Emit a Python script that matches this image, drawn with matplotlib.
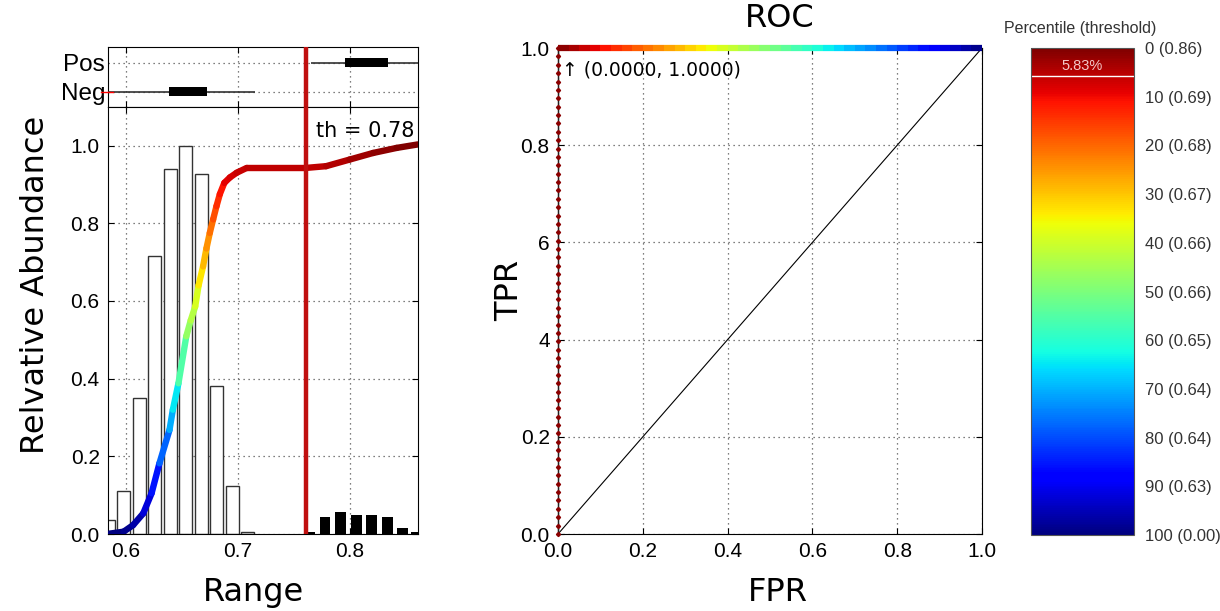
import numpy as np
import matplotlib
matplotlib.use("Agg")
import matplotlib.pyplot as plt
from matplotlib.collections import LineCollection
from matplotlib.cm import ScalarMappable
from matplotlib.colors import Normalize
import matplotlib.transforms as mtransforms

# ---- data ----
neg_centers = [0.5842, 0.598, 0.6118, 0.6257, 0.6395, 0.6534, 0.6672, 0.681, 0.6949, 0.7087]
neg_heights = [0.035, 0.111, 0.35, 0.715, 0.94, 1.0, 0.928, 0.38, 0.124, 0.005]
pos_centers = [0.764, 0.778, 0.792, 0.806, 0.8196, 0.8339, 0.8471, 0.8600]
pos_heights = [0.006, 0.044, 0.056, 0.05, 0.05, 0.044, 0.015, 0.004]

curve_x = [0.583, 0.598, 0.6065, 0.6155, 0.623, 0.630, 0.639, 0.642, 0.647, 0.654, 0.658,
           0.662, 0.665, 0.669, 0.672, 0.675, 0.678, 0.681, 0.684, 0.688, 0.693, 0.699,
           0.708, 0.761, 0.779, 0.800, 0.821, 0.842, 0.861]
curve_y = [0.0, 0.006, 0.023, 0.053, 0.105, 0.182, 0.268, 0.32, 0.388, 0.509, 0.55,
           0.586, 0.64, 0.689, 0.735, 0.775, 0.81, 0.844, 0.875, 0.904, 0.918, 0.930,
           0.9425, 0.9425, 0.947, 0.964, 0.981, 0.994, 1.003]

threshold = 0.761
neg_box = {"whislo": 0.57, "q1": 0.6384, "q3": 0.6726, "whishi": 0.7152}
pos_box = {"whislo": 0.7658, "q1": 0.7955, "q3": 0.8342, "whishi": 0.87}

roc_tpr = [0.000, 0.017, 0.034, 0.052, 0.069, 0.086, 0.103, 0.121, 0.138, 0.155, 0.172,
           0.190, 0.207, 0.224, 0.241, 0.259, 0.276, 0.293, 0.310, 0.328, 0.345, 0.362,
           0.379, 0.397, 0.414, 0.431, 0.448, 0.466, 0.483, 0.500, 0.517, 0.534, 0.552,
           0.569, 0.586, 0.603, 0.621, 0.638, 0.655, 0.672, 0.690, 0.707, 0.724, 0.741,
           0.759, 0.776, 0.793, 0.810, 0.828, 0.845, 0.862, 0.879, 0.897, 0.914, 0.931,
           0.948, 0.966, 0.983, 1.000]
roc_fpr_top = [0.0, 0.025, 0.05, 0.075, 0.1, 0.125, 0.15, 0.175, 0.2, 0.225, 0.25, 0.275,
               0.3, 0.325, 0.35, 0.375, 0.4, 0.425, 0.45, 0.475, 0.5, 0.525, 0.55, 0.575,
               0.6, 0.625, 0.65, 0.675, 0.7, 0.725, 0.75, 0.775, 0.8, 0.825, 0.85, 0.875,
               0.9, 0.925, 0.95, 0.975, 1.0]

percentiles = [0, 10, 20, 30, 40, 50, 60, 70, 80, 90, 100]
pct_thresholds = [0.86, 0.69, 0.68, 0.67, 0.66, 0.66, 0.65, 0.64, 0.64, 0.63, 0.00]
marked_pct = 5.83

roc_yticklabels = ["0.0", "0.2", "4", "6", "0.8", "1.0"]

# ---- styling ----
arial = ["Liberation Sans", "DejaVu Sans"]
grid_kw = dict(color="#555555", linestyle=(0, (1, 3)), linewidth=0.9)
red = "#c0100f"

fig = plt.figure(figsize=(12.2, 6.11), dpi=100)

ax_box = fig.add_axes([0.0885, 0.8254, 0.254, 0.0982])
ax = fig.add_axes([0.0885, 0.126, 0.254, 0.6993])
ax_roc = fig.add_axes([0.4574, 0.126, 0.3475, 0.7954])
cax = fig.add_axes([0.8451, 0.1244, 0.0844, 0.797])

xlim = (0.584, 0.861)

# box strip
for ypos, st in [(1, neg_box), (2, pos_box)]:
    ax_box.hlines(ypos, st["whislo"], st["whishi"], color="#333333", lw=1.2, zorder=3)
    ax_box.barh(ypos, st["q3"] - st["q1"], left=st["q1"], height=0.31, color="black", zorder=4)
ax_box.set_xlim(*xlim)
ax_box.set_ylim(0.48, 2.55)
ax_box.set_yticks([1, 2])
ax_box.set_yticklabels(["Neg", "Pos"], family=arial, fontsize=17.5)
ax_box.set_xticks([0.6, 0.7, 0.8])
ax_box.set_xticklabels([])
ax_box.grid(True, **grid_kw)
ax_box.tick_params(direction="in", length=4, top=True, right=False, left=False, pad=2)
ax_box.axvline(threshold, color=red, lw=3.2, zorder=5)
trans = mtransforms.blended_transform_factory(ax_box.transAxes, ax_box.transData)
ax_box.plot([-0.023, 0.016], [1, 1], color="red", lw=1, transform=trans, clip_on=False, zorder=6)

# histogram + cumulative curve
ax.bar(neg_centers, neg_heights, width=0.0116, facecolor="white", edgecolor="#333333", lw=1.0, zorder=2)
ax.bar(pos_centers, pos_heights, width=0.0095, color="black", zorder=2)
pts = np.column_stack([curve_x, curve_y])
segs = np.stack([pts[:-1], pts[1:]], axis=1)
seg_y = (np.array(curve_y[:-1]) + np.array(curve_y[1:])) / 2
lc = LineCollection(segs, colors=plt.cm.jet(np.clip(seg_y, 0, 1)), linewidths=4.6,
                    capstyle="round", joinstyle="round", zorder=4)
ax.add_collection(lc)
ax.axvline(threshold, color=red, lw=3.2, zorder=5)
ax.text(0.858, 1.037, "th = 0.78", ha="right", va="center", fontsize=15)
ax.set_xlim(*xlim)
ax.set_ylim(0, 1.1)
ax.set_xticks([0.6, 0.7, 0.8])
ax.set_yticks([0.0, 0.2, 0.4, 0.6, 0.8, 1.0])
ax.set_xticklabels(["0.6", "0.7", "0.8"], family=arial, fontsize=15)
ax.set_yticklabels(["0.0", "0.2", "0.4", "0.6", "0.8", "1.0"], family=arial, fontsize=15)
ax.grid(True, **grid_kw)
ax.set_axisbelow(True)
ax.tick_params(direction="in", length=4, top=True, right=True, pad=6)

fig.text(0.2074, 0.0295, "Range", ha="center", va="center", fontsize=23)
fig.text(0.0287, 0.5336, "Relvative Abundance", ha="center", va="center", rotation=90, fontsize=23)

# ROC
ax_roc.plot([0, 1], [0, 1], color="black", lw=0.8, zorder=2)
ax_roc.plot([0] * len(roc_tpr), roc_tpr, color="#222222", lw=1, marker="D", ms=2.1,
            mfc="#8b0000", mec="#8b0000", clip_on=False, zorder=4)
tp = np.column_stack([roc_fpr_top, [1.0] * len(roc_fpr_top)])
tsegs = np.stack([tp[:-1], tp[1:]], axis=1)
tmid = (np.array(roc_fpr_top[:-1]) + np.array(roc_fpr_top[1:])) / 2
lc2 = LineCollection(tsegs, colors=plt.cm.jet_r(tmid), linewidths=4.5, zorder=5)
lc2.set_clip_on(False)
ax_roc.add_collection(lc2)
ax_roc.text(0.01, 0.955, "\u2191 (0.0000, 1.0000)", ha="left", va="center", fontsize=13.5)
ax_roc.set_xlim(0, 1)
ax_roc.set_ylim(0, 1)
ticks = [0.0, 0.2, 0.4, 0.6, 0.8, 1.0]
ax_roc.set_xticks(ticks)
ax_roc.set_yticks(ticks)
ax_roc.set_xticklabels(["0.0", "0.2", "0.4", "0.6", "0.8", "1.0"], family=arial, fontsize=15)
ax_roc.set_yticklabels(roc_yticklabels, family=arial, fontsize=15)
ax_roc.grid(True, **grid_kw)
ax_roc.set_axisbelow(True)
ax_roc.tick_params(direction="in", length=4, top=True, right=True, pad=6)
fig.text(0.6393, 0.9705, "ROC", ha="center", va="center", fontsize=23)
fig.text(0.6377, 0.031, "FPR", ha="center", va="center", fontsize=23)
fig.text(0.418, 0.525, "TPR", ha="center", va="center", rotation=90, fontsize=23)

# colorbar
sm = ScalarMappable(norm=Normalize(0, 100), cmap="jet_r")
cb = fig.colorbar(sm, cax=cax)
cax.invert_yaxis()
cb.set_ticks(percentiles)
cb.set_ticklabels([f"{p} ({t:.2f})" for p, t in zip(percentiles, pct_thresholds)])
cax.tick_params(length=0, pad=8, labelsize=12, labelcolor="#333333")
for lab in cax.get_yticklabels():
    lab.set_family(["Liberation Sans Narrow", "Liberation Sans", "DejaVu Sans"])
cb.outline.set_edgecolor("#555555")
cb.outline.set_linewidth(0.8)
cax.axhline(marked_pct, color="white", lw=1)
cax.text(0.5, marked_pct * 0.62, f"{marked_pct:.2f}%", ha="center", va="center",
         fontsize=10.5, color="#f4c8c8", family=arial)
fig.text(0.885, 0.954, "Percentile (threshold)", ha="center", va="center", fontsize=11.5,
         color="#333333", family=arial)

fig.savefig("out.png", dpi=100)
